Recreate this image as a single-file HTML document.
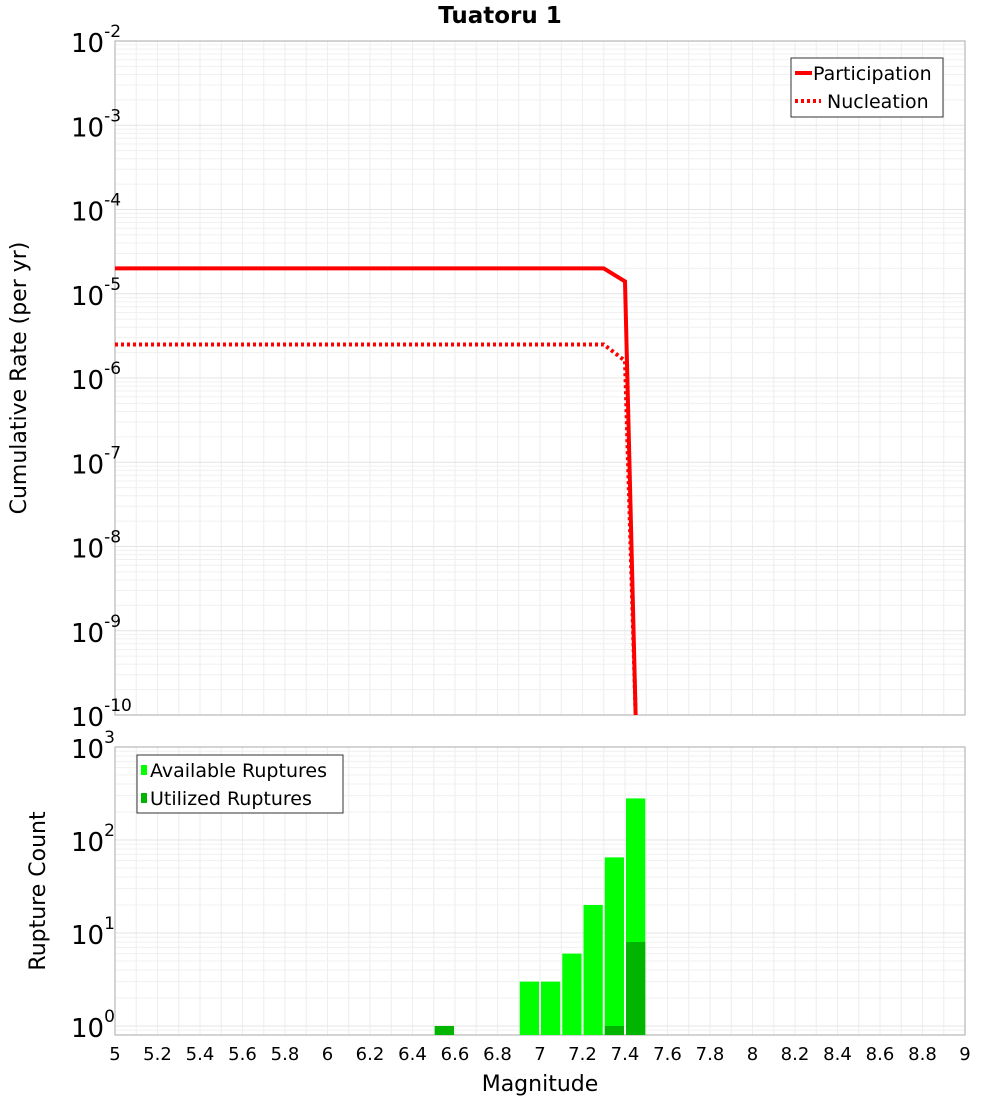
<!DOCTYPE html>
<html><head><meta charset="utf-8"><style>
body{margin:0;background:#fff;font-family:"Liberation Sans","DejaVu Sans",sans-serif}
</style></head><body>
<svg id="c" width="1000" height="1100" xmlns="http://www.w3.org/2000/svg" style="font-family:'DejaVu Sans','Liberation Sans',sans-serif"></svg>
<script>
const magX=[5,7.3,7.4,7.45];
const partY=[2e-5,2e-5,1.4e-5,1e-10];
const nuclY=[2.5e-6,2.5e-6,1.6e-6,1e-10];
const binCenters=[6.55,6.95,7.05,7.15,7.25,7.35,7.45];
const availCounts=[1,3,3,6,20,65,280];
const utilCounts=[1,0,0,0,0,1,8];
const xTicks=[5,5.2,5.4,5.6,5.8,6,6.2,6.4,6.6,6.8,7,7.2,7.4,7.6,7.8,8,8.2,8.4,8.6,8.8,9];
const topExps=[-2,-3,-4,-5,-6,-7,-8,-9,-10];
const botExps=[3,2,1,0];
const NS="http://www.w3.org/2000/svg",svg=document.getElementById('c');
function el(t,a,p){const e=document.createElementNS(NS,t);for(const k in a)e.setAttribute(k,a[k]);(p||svg).appendChild(e);return e;}
const L=115,R=965,T1=41,B1=715,T2=747,B2=1035;
const X=m=>L+(m-5)/4*(R-L);
const Y1=v=>T1+(-2-Math.log10(v))/8*(B1-T1);
const bMin=Math.log10(0.8);
const Y2=v=>T2+(3-Math.log10(v))/(3-bMin)*(B2-T2);
function grid(T,B,Yf,lo,hi){
 for(let m=5;m<=9.001;m+=0.1){const l=el('line',{x1:X(m),x2:X(m),y1:T,y2:B,stroke:'#eeeeee','stroke-width':1});}
 for(let e=lo;e<hi;e++)for(let k=1;k<10;k++){const v=k*Math.pow(10,e);const y=Yf(v);if(y<T||y>B)continue;const l=el('line',{x1:L,x2:R,y1:y,y2:y,stroke:k==1?'#e4e4e4':'#f0f0f0','stroke-width':1});}
}
grid(T1,B1,Y1,-10,-2);grid(T2,B2,Y2,-1,3);
let f=el('rect',{x:L,y:T1,width:R-L,height:B1-T1,fill:'none',stroke:'#aaa'});
f=el('rect',{x:L,y:T2,width:R-L,height:B2-T2,fill:'none',stroke:'#aaa'});
function pts(xs,ys){return xs.map((m,i)=>X(m)+','+Math.min(Y1(ys[i]),B1+2)).join(' ');}
let p=el('polyline',{points:pts(magX,partY),fill:'none',stroke:'#ff0000','stroke-width':4});
p=el('polyline',{points:pts(magX,nuclY),fill:'none',stroke:'#ff0000','stroke-width':4,'stroke-dasharray':'3,3'});
binCenters.forEach((c,i)=>{
 const x0=X(c-0.05)+1,w=X(c+0.05)-X(c-0.05)-2;
 if(availCounts[i]>0){const y=Y2(availCounts[i]);const r=el('rect',{x:x0,y:y,width:w,height:B2-y,fill:'#00ff00'});}
 if(utilCounts[i]>0){const y=Y2(utilCounts[i]);const r=el('rect',{x:x0,y:y,width:w,height:B2-y,fill:'#00b400'});}
});
xTicks.forEach(m=>{const t=el('text',{x:X(m),y:1060,'text-anchor':'middle','font-size':18});t.textContent=String(m);});
function ylab(e,y){const t=el('text',{x:71,y:y+11,'font-size':26});t.textContent='10';const s=el('tspan',{dy:-15,'font-size':17},t);s.textContent=String(e);}
topExps.forEach(e=>ylab(e,Y1(Math.pow(10,e))));
botExps.forEach(e=>ylab(e,e==0?1026:Y2(Math.pow(10,e))));
let t=el('text',{x:500,y:23,'text-anchor':'middle','font-size':23,'font-weight':'bold'});t.textContent='Tuatoru 1';
t=el('text',{x:540,y:1091,'text-anchor':'middle','font-size':22});t.textContent='Magnitude';
t=el('text',{x:26,y:378,'text-anchor':'middle','font-size':22,transform:'rotate(-90 26 378)'});t.textContent='Cumulative Rate (per yr)';
t=el('text',{x:45,y:891,'text-anchor':'middle','font-size':22,transform:'rotate(-90 45 891)'});t.textContent='Rupture Count';
let g=el('g',{});
el('rect',{x:791,y:58,width:152,height:59,fill:'#fff',stroke:'#333'},g);
el('line',{x1:795,x2:812,y1:73,y2:73,stroke:'#f00','stroke-width':4},g);
el('line',{x1:795,x2:821,y1:101,y2:101,stroke:'#f00','stroke-width':4,'stroke-dasharray':'3,3'},g);
t=el('text',{x:813,y:80,'font-size':19},g);t.textContent='Participation';
t=el('text',{x:827,y:108,'font-size':19},g);t.textContent='Nucleation';
g=el('g',{});
el('rect',{x:137,y:755,width:206,height:58,fill:'#fff',stroke:'#333'},g);
el('rect',{x:141,y:765,width:6,height:10,fill:'#00ff00'},g);
el('rect',{x:141,y:793,width:6,height:10,fill:'#00b400'},g);
t=el('text',{x:150,y:777,'font-size':19},g);t.textContent='Available Ruptures';
t=el('text',{x:150,y:805,'font-size':19},g);t.textContent='Utilized Ruptures';
</script>
</body></html>
